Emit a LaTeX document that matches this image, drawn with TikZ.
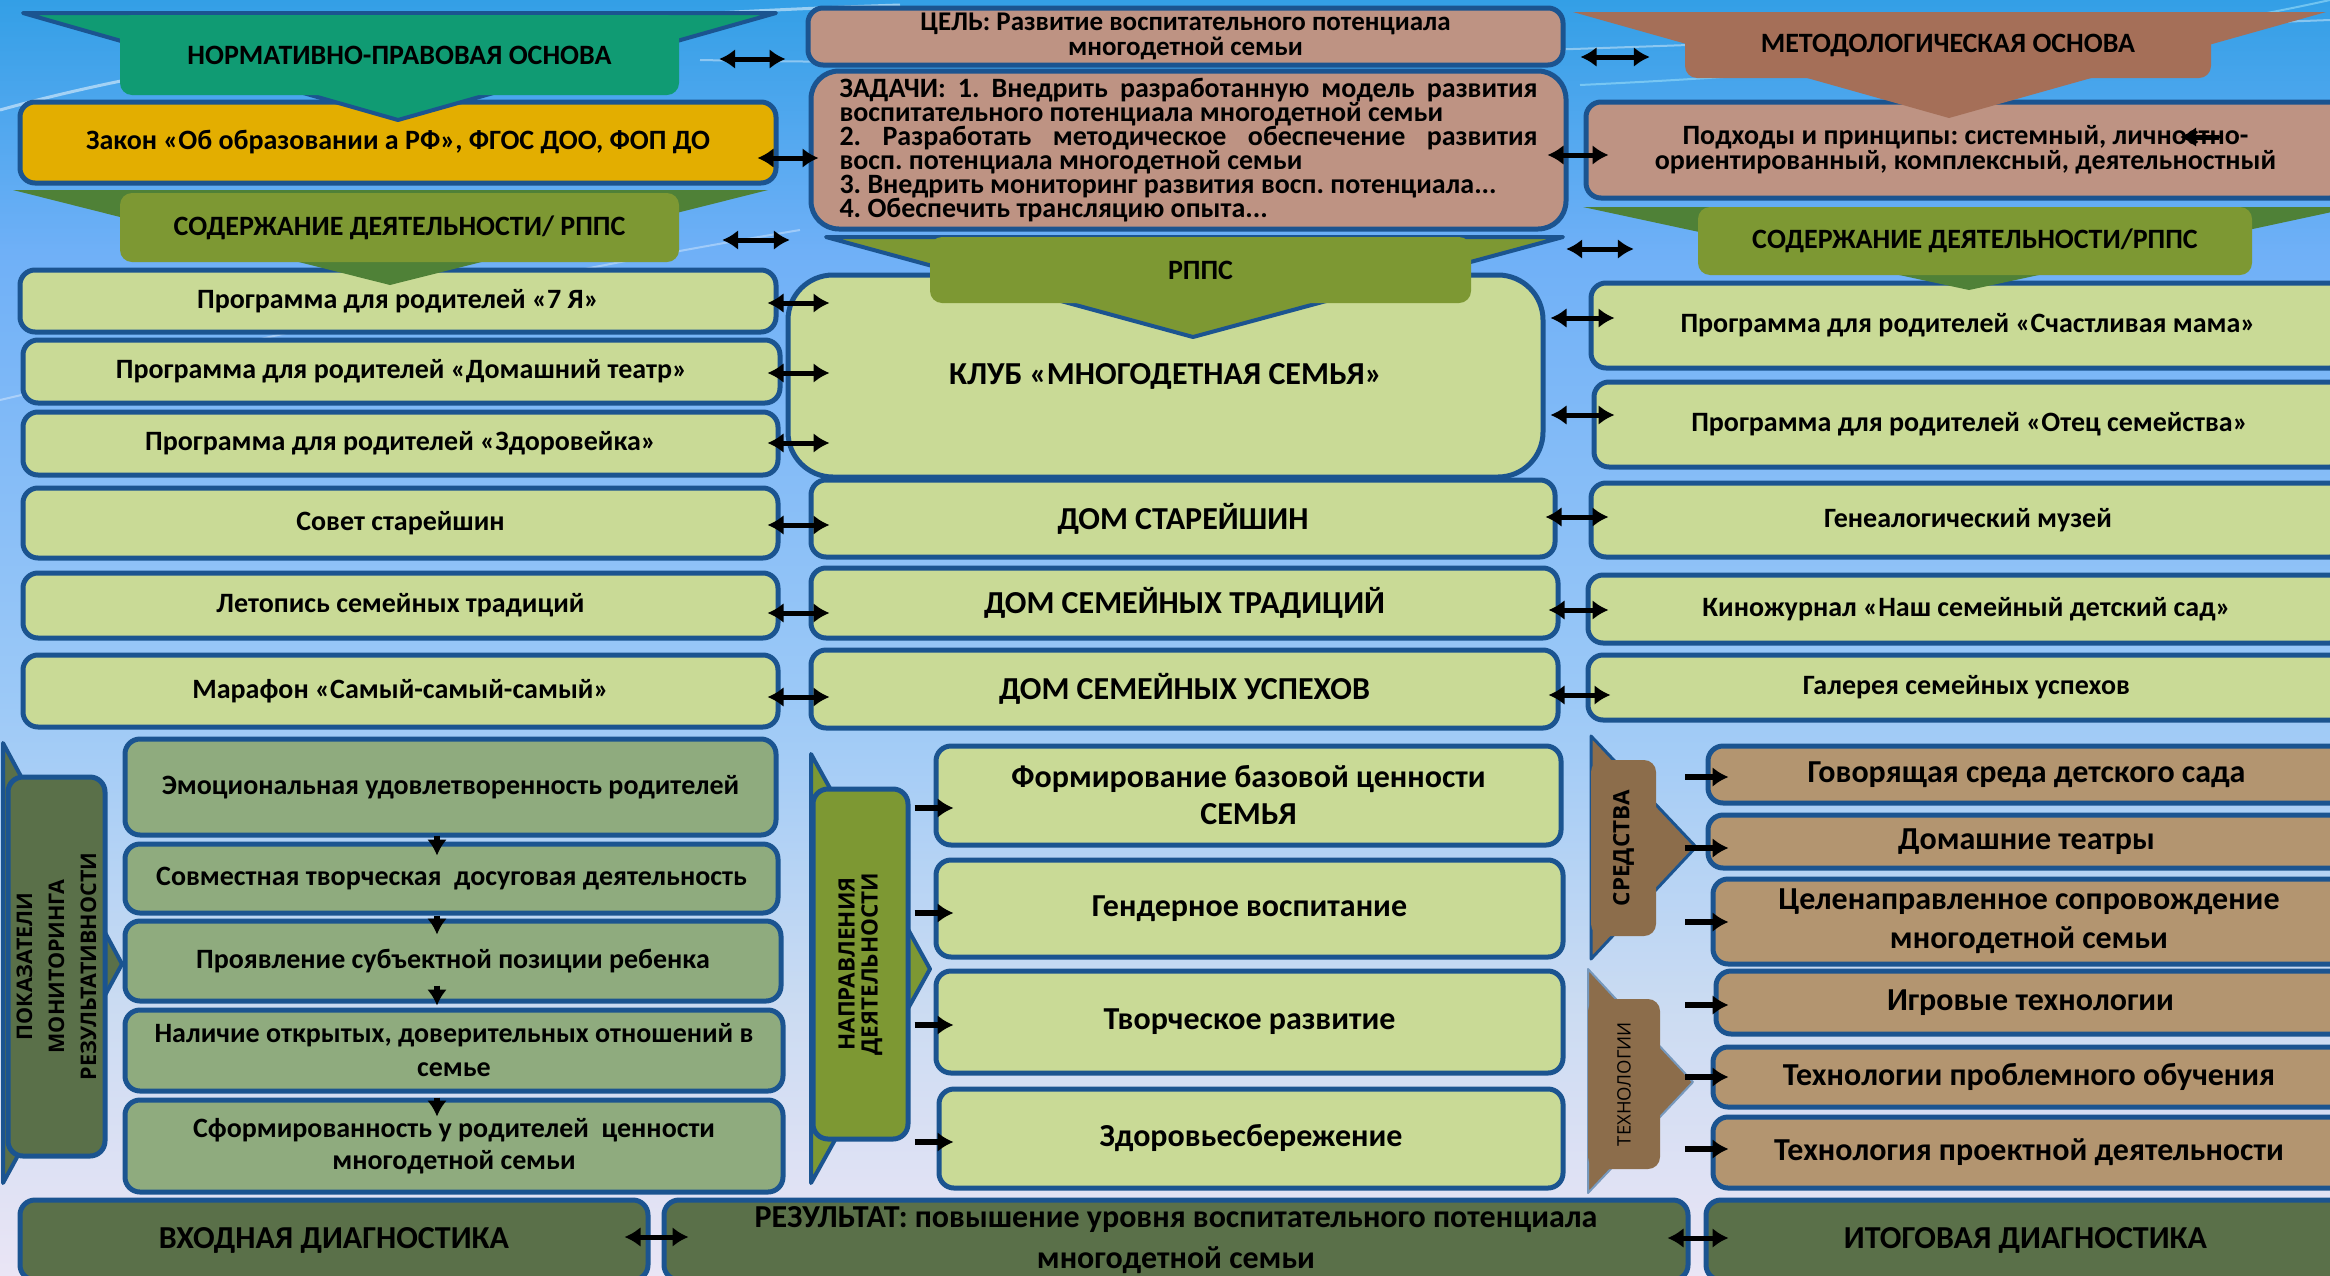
\documentclass[tikz,border=0pt]{standalone}
\usepackage{fontspec}
\setmainfont{Carlito}
\newfontfamily\vfont{Open Sans}
\usetikzlibrary{arrows.meta,calc}
\definecolor{bblue}{HTML}{1B5490}
\definecolor{tealB}{HTML}{109B73}
\definecolor{goldB}{HTML}{E3AE00}
\definecolor{oliveB}{HTML}{7D9833}
\definecolor{triG}{HTML}{4F8137}
\definecolor{lgreen}{HTML}{C9DA96}
\definecolor{rosy}{HTML}{BE9383}
\definecolor{brownB}{HTML}{A56F58}
\definecolor{mgreen}{HTML}{8FAB7E}
\definecolor{dkgreen}{HTML}{5A7049}
\definecolor{tanB}{HTML}{B39570}
\definecolor{brownR}{HTML}{8C6D4B}
\definecolor{bg0}{HTML}{339FE6}
\definecolor{bg1}{HTML}{6FB0F7}
\definecolor{bg2}{HTML}{9CC9F7}
\definecolor{bg3}{HTML}{CADBF2}
\definecolor{bg4}{HTML}{EAE5F5}
\newcommand\FS[2]{\fontsize{#1}{#2}\selectfont}
\frenchspacing
\tikzset{
  box/.style={draw=bblue, line width=5pt, rounded corners=15pt, inner sep=0pt, align=center, font=\bfseries\FS{28}{32}},
  banner/.style={rounded corners=12pt, inner sep=0pt, align=center, font=\bfseries\FS{28}{30}},
  tri/.style={line width=4pt, line join=round},
  vlab/.style={rotate=90, align=center, inner sep=0pt},
  dbl/.style={{Latex[length=16pt,width=20pt]}-{Latex[length=16pt,width=20pt]}, line width=5pt},
  sgl/.style={-{Latex[length=16pt,width=20pt]}, line width=6pt},
}
\begin{document}
\begin{tikzpicture}[x=1pt,y=-1pt]
\useasboundingbox (0,0) rectangle (2330,1275);
\clip (0,0) rectangle (2330,1275);
% background
\shade[top color=bg0, bottom color=bg1] (0,-1) rectangle (2330,251);
\shade[top color=bg1, bottom color=bg2] (0,250) rectangle (2330,701);
\shade[top color=bg2, bottom color=bg3] (0,700) rectangle (2330,1001);
\shade[top color=bg3, bottom color=bg4] (0,1000) rectangle (2330,1276);
\draw[white, opacity=.5, line width=3pt] (0,110) .. controls (250,40) and (600,15) .. (900,5);
\draw[white, opacity=.4, line width=2pt] (700,60) .. controls (1200,70) and (1800,40) .. (2330,20);
\draw[cyan!40, opacity=.6, line width=2pt] (1580,85) .. controls (1900,70) and (2150,40) .. (2330,0);
\draw[white, opacity=.35, line width=2pt] (0,400) .. controls (300,330) and (500,280) .. (800,230);

% ===== left column =====
\node[box, fill=goldB, minimum width=756pt, minimum height=81pt] (zakon) at (398,142.5) {Закон «Об образовании а РФ», ФГОС ДОО, ФОП ДО};
\node[box, fill=lgreen, minimum width=756pt, minimum height=62pt] (l1) at (398,301) {Программа для родителей «7 Я»};
\node[box, fill=lgreen, minimum width=757pt, minimum height=63pt] (l2) at (401.5,371.5) {Программа для родителей «Домашний театр»};
\node[box, fill=lgreen, minimum width=755pt, minimum height=63pt] (l3) at (400.5,443.5) {Программа для родителей «Здоровейка»};
\node[box, fill=lgreen, minimum width=755pt, minimum height=70pt] (l4) at (400.5,523) {Совет старейшин};
\node[box, fill=lgreen, minimum width=755pt, minimum height=65pt] (l5) at (400.5,605.5) {Летопись семейных традиций};
\node[box, fill=lgreen, minimum width=755pt, minimum height=72pt] (l6) at (400.5,691) {Марафон «Самый-самый-самый»};

% ===== middle column =====
\node[box, fill=rosy, minimum width=755pt, minimum height=57pt, font=\bfseries\FS{27}{25}] (goal) at (1185.5,36.5) {ЦЕЛЬ: Развитие воспитательного потенциала\\многодетной семьи};
\node[box, fill=rosy, minimum width=755pt, minimum height=158pt, rounded corners=28pt, align=left, font=\bfseries\FS{28}{24}] (tasks) at (1188.5,150) {\makebox[698pt][s]{ЗАДАЧИ: 1. Внедрить разработанную модель развития}\\воспитательного потенциала многодетной семьи\\\makebox[698pt][s]{2. Разработать методическое обеспечение развития}\\восп. потенциала многодетной семьи\\3. Внедрить мониторинг развития восп. потенциала...\\4. Обеспечить трансляцию опыта...};
\node[box, fill=lgreen, minimum width=755pt, minimum height=202pt, rounded corners=45pt, font=\bfseries\FS{32}{34}] (klub) at (1165.5,376) {КЛУБ «МНОГОДЕТНАЯ СЕМЬЯ»};
\node[box, fill=lgreen, minimum width=744pt, minimum height=77pt, font=\bfseries\FS{32}{34}] (m1) at (1183,518.5) {ДОМ СТАРЕЙШИН};
\node[box, fill=lgreen, minimum width=747pt, minimum height=70pt, font=\bfseries\FS{32}{34}] (m2) at (1184.5,603) {ДОМ СЕМЕЙНЫХ ТРАДИЦИЙ};
\node[box, fill=lgreen, minimum width=747pt, minimum height=78pt, font=\bfseries\FS{32}{34}] (m3) at (1184.5,689) {ДОМ СЕМЕЙНЫХ УСПЕХОВ};

% ===== right column =====
\node[box, fill=rosy, minimum width=759pt, minimum height=96pt, font=\bfseries\FS{28}{23}] (podh) at (1965.5,150) {Подходы и принципы: системный, личностно-\\ориентированный, комплексный, деятельностный};
\node[box, fill=lgreen, minimum width=754pt, minimum height=85pt] (r1) at (1968,325.5) {Программа для родителей «Счастливая мама»};
\node[box, fill=lgreen, minimum width=751pt, minimum height=85pt] (r2) at (1969.5,424.5) {Программа для родителей «Отец семейства»};
\node[box, fill=lgreen, minimum width=754pt, minimum height=74pt] (r3) at (1968,520) {Генеалогический музей};
\node[box, fill=lgreen, minimum width=757pt, minimum height=68pt] (r4) at (1966.5,609) {Киножурнал «Наш семейный детский сад»};
\node[box, fill=lgreen, minimum width=757pt, minimum height=65pt] (r5) at (1966.5,687.5) {Галерея семейных успехов};

% ===== top banners =====
\filldraw[tri, fill=tealB, draw=bblue] (23,13) -- (776,13) -- (398,120) -- cycle;
\node[banner, fill=tealB, minimum width=559pt, minimum height=80pt] (npo) at (399.5,55) {НОРМАТИВНО-ПРАВОВАЯ ОСНОВА};
\fill[triG] (13,190) -- (768,190) -- (390,285) -- cycle;
\node[banner, fill=oliveB, minimum width=559pt, minimum height=69pt] (sodL) at (399.5,227.5) {СОДЕРЖАНИЕ ДЕЯТЕЛЬНОСТИ/ РППС};
\filldraw[tri, fill=oliveB, draw=bblue] (826,237) -- (1563,237) -- (1193,337) -- cycle;
\node[banner, fill=oliveB, minimum width=541pt, minimum height=66pt] (rpps) at (1200.5,270) {РППС};
\fill[brownB] (1573,12) -- (2326,12) -- (1949,118) -- cycle;
\node[banner, fill=brownB, minimum width=526pt, minimum height=66pt] (met) at (1948,45) {МЕТОДОЛОГИЧЕСКАЯ ОСНОВА};
\fill[triG] (1583,207) -- (2355,207) -- (1969,290) -- cycle;
\node[banner, fill=oliveB, minimum width=554pt, minimum height=68pt] (sodR) at (1975,241) {СОДЕРЖАНИЕ ДЕЯТЕЛЬНОСТИ/РППС};

% ===== bottom-left: monitoring =====
\filldraw[tri, fill=dkgreen, draw=bblue] (3,743) -- (122,964) -- (3,1183) -- cycle;
\node[draw=bblue, line width=5pt, rounded corners=15pt, fill=dkgreen, minimum width=97pt, minimum height=379pt, inner sep=0pt] (mon) at (56.5,966.5) {};
\node[vlab, font=\vfont\bfseries\FS{21.5}{32}] (monT) at (mon.center) {ПОКАЗАТЕЛИ\\МОНИТОРИНГА\\РЕЗУЛЬТАТИВНОСТИ};
\node[box, fill=mgreen, minimum width=651pt, minimum height=96pt] (p1) at (450.5,787) {Эмоциональная удовлетворенность родителей};
\node[box, fill=mgreen, minimum width=653pt, minimum height=69pt] (p2) at (451.5,878.5) {Совместная творческая\ \ досуговая деятельность};
\node[box, fill=mgreen, minimum width=656pt, minimum height=80pt] (p3) at (453,961) {Проявление субъектной позиции ребенка};
\node[box, fill=mgreen, minimum width=658pt, minimum height=81pt, font=\bfseries\FS{28}{34}] (p4) at (454,1050.5) {Наличие открытых, доверительных отношений в\\семье};
\node[box, fill=mgreen, minimum width=658pt, minimum height=92pt, font=\bfseries\FS{28}{32}] (p5) at (454,1146) {Сформированность у родителей\ \ ценности\\многодетной семьи};

% ===== bottom-middle: directions =====
\filldraw[tri, fill=oliveB, draw=bblue] (811,754) -- (930,969) -- (811,1183) -- cycle;
\node[draw=bblue, line width=5pt, rounded corners=15pt, fill=oliveB, minimum width=95pt, minimum height=350pt, inner sep=0pt] (dir) at (860.5,964) {};
\node[vlab, font=\vfont\bfseries\FS{22.5}{23}] (dirT) at (dir.center) {НАПРАВЛЕНИЯ\\ДЕЯТЕЛЬНОСТИ};
\node[box, fill=lgreen, minimum width=625pt, minimum height=99pt, font=\bfseries\FS{32}{37}] (d1) at (1248.5,795.5) {Формирование базовой ценности\\СЕМЬЯ};
\node[box, fill=lgreen, minimum width=627pt, minimum height=97pt, font=\bfseries\FS{32}{34}] (d2) at (1249.5,908.5) {Гендерное воспитание};
\node[box, fill=lgreen, minimum width=627pt, minimum height=102pt, font=\bfseries\FS{32}{34}] (d3) at (1249.5,1022) {Творческое развитие};
\node[box, fill=lgreen, minimum width=624pt, minimum height=99pt, font=\bfseries\FS{32}{34}] (d4) at (1251,1138.5) {Здоровьесбережение};

% ===== bottom-right: means and technologies =====
\filldraw[line width=3pt, line join=round, fill=brownR, draw=bblue] (1591,736) -- (1696,847) -- (1591,959) -- cycle;
\node[rounded corners=12pt, fill=brownR, minimum width=65pt, minimum height=176pt, inner sep=0pt] (sr) at (1623.5,848) {};
\node[vlab, font=\vfont\bfseries\FS{22.5}{24}] (srT) at (sr.center) {СРЕДСТВА};
\filldraw[line width=2pt, line join=round, fill=brownR, draw=bblue!60!white] (1588,969) -- (1693,1082) -- (1588,1193) -- cycle;
\node[rounded corners=12pt, fill=brownR, minimum width=72pt, minimum height=170pt, inner sep=0pt] (tech) at (1624,1084) {};
\node[vlab, font=\vfont\FS{18.5}{20}] (techT) at (tech.center) {ТЕХНОЛОГИИ};
\node[box, fill=tanB, minimum width=637pt, minimum height=57pt, font=\bfseries\FS{32}{34}] (t1) at (2026.5,774.5) {Говорящая среда детского сада};
\node[box, fill=tanB, minimum width=637pt, minimum height=53pt, font=\bfseries\FS{32}{34}] (t2) at (2026.5,841.5) {Домашние театры};
\node[box, fill=tanB, minimum width=632pt, minimum height=85pt, font=\bfseries\FS{32}{39}] (t3) at (2029,921.5) {Целенаправленное сопровождение\\многодетной семьи};
\node[box, fill=tanB, minimum width=629pt, minimum height=63pt, font=\bfseries\FS{32}{34}] (t4) at (2030.5,1002.5) {Игровые технологии};
\node[box, fill=tanB, minimum width=632pt, minimum height=60pt, font=\bfseries\FS{32}{34}] (t5) at (2029,1077) {Технологии проблемного обучения};
\node[box, fill=tanB, minimum width=632pt, minimum height=71pt, font=\bfseries\FS{32}{34}] (t6) at (2029,1152.5) {Технология проектной деятельности};

% ===== bottom row =====
\node[box, fill=dkgreen, minimum width=628pt, minimum height=80pt, font=\bfseries\FS{32}{34}] (inp) at (334,1240) {ВХОДНАЯ ДИАГНОСТИКА};
\node[box, fill=dkgreen, minimum width=1024pt, minimum height=80pt, font=\bfseries\FS{32}{41}] (res) at (1176,1240) {РЕЗУЛЬТАТ: повышение уровня воспитательного потенциала\\многодетной семьи};
\node[box, fill=dkgreen, minimum width=639pt, minimum height=80pt, font=\bfseries\FS{32}{34}] (out) at (2025.5,1240) {ИТОГОВАЯ ДИАГНОСТИКА};

% ===== connectors =====
\draw[dbl] ($(npo.east)+(40,4)$) -- ($(npo.east -| goal.west)+(-20,4)$);
\draw[dbl] ($(met.west -| goal.east)+(15,12)$) -- ($(met.west)+(-35,12)$);
\draw[dbl] ($(sodL.east)+(43,12.5)$) -- ($(sodL.east -| rpps.west)+(-140,12.5)$);
\draw[dbl] ($(sodR.west -| rpps.east)+(95,8)$) -- ($(sodR.west)+(-64,8)$);
\draw[dbl] ($(zakon.east)+(-21,15.5)$) -- ($(zakon.east -| tasks.west)+(10,15.5)$);
\draw[dbl] ($(tasks.east)+(-21,5)$) -- ($(tasks.east -| podh.west)+(25,5)$);
\draw[-{Latex[length=16pt,width=20pt]}, line width=5pt] ($(podh.center)+(253.5,-13)$) -- ($(podh.center)+(214.5,-13)$);

\draw[dbl] ($(l1.east)+(-11,2)$) -- ($(l1.east -| klub.west)+(44,2)$);
\draw[dbl] ($(l2.east)+(-15,1.5)$) -- ($(l2.east -| klub.west)+(44,1.5)$);
\draw[dbl] ($(l3.east)+(-13,-0.5)$) -- ($(l3.east -| klub.west)+(44,-0.5)$);
\draw[dbl] ($(l4.east)+(-13,2)$) -- ($(l4.east -| m1.west)+(21,2)$);
\draw[dbl] ($(l5.east)+(-13,7.5)$) -- ($(l5.east -| m2.west)+(21,7.5)$);
\draw[dbl] ($(l6.east)+(-13,6)$) -- ($(l6.east -| m3.west)+(21,6)$);

\draw[dbl] ($(r1.west -| klub.east)+(5,-7.5)$) -- ($(r1.west)+(26,-7.5)$);
\draw[dbl] ($(r2.west -| klub.east)+(5,-9.5)$) -- ($(r2.west)+(23,-9.5)$);
\draw[dbl] ($(r3.west -| m1.east)+(-12,-3)$) -- ($(r3.west)+(20,-3)$);
\draw[dbl] ($(r4.west -| m2.east)+(-12,1)$) -- ($(r4.west)+(23,1)$);
\draw[dbl] ($(r5.west -| m3.east)+(-12,7.5)$) -- ($(r5.west)+(25,7.5)$);

\draw[sgl] ($(p1.south)+(-13.5,-2)$) -- ($(p2.north)+(-14.5,14)$);
\draw[sgl] ($(p2.south)+(-14.5,0)$) -- ($(p3.north)+(-16,16)$);
\draw[sgl] ($(p3.south)+(-16,-18)$) -- ($(p4.north)+(-17,-2)$);
\draw[sgl] ($(p4.south)+(-17,4)$) -- ($(p5.north)+(-17,19)$);

\draw[sgl] ($(d1.west -| dir.east)+(4,12.5)$) -- ($(d1.west)+(20,12.5)$);
\draw[sgl] ($(d2.west -| dir.east)+(4,4.5)$) -- ($(d2.west)+(20,4.5)$);
\draw[sgl] ($(d3.west -| dir.east)+(4,3)$) -- ($(d3.west)+(20,3)$);
\draw[sgl] ($(d4.west -| dir.east)+(4,3.5)$) -- ($(d4.west)+(17,3.5)$);

\draw[sgl] ($(t1.west -| sr.east)+(29,2.5)$) -- ($(t1.west)+(23,2.5)$);
\draw[sgl] ($(t2.west -| sr.east)+(29,6.5)$) -- ($(t2.west)+(23,6.5)$);
\draw[sgl] ($(t3.west -| sr.east)+(29,0.5)$) -- ($(t3.west)+(18,0.5)$);
\draw[sgl] ($(t4.west -| tech.east)+(25,2.5)$) -- ($(t4.west)+(15,2.5)$);
\draw[sgl] ($(t5.west -| tech.east)+(25,0)$) -- ($(t5.west)+(18,0)$);
\draw[sgl] ($(t6.west -| tech.east)+(25,-3.5)$) -- ($(t6.west)+(18,-3.5)$);

\draw[dbl] ($(inp.east)+(-26,-3)$) -- ($(inp.east -| res.west)+(27,-3)$);
\draw[dbl] ($(res.east)+(-23,-2)$) -- ($(res.east -| out.west)+(25,-2)$);
\end{tikzpicture}
\end{document}
